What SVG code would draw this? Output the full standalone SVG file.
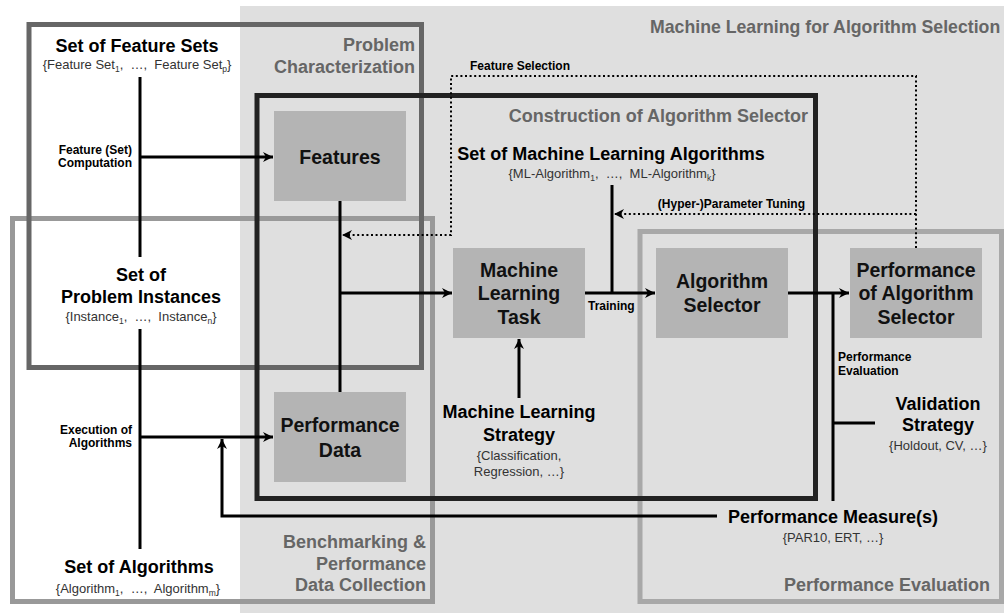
<svg xmlns="http://www.w3.org/2000/svg" width="1004" height="613" viewBox="0 0 1004 613">
<style>
text{font-family:"Liberation Sans",Arial,sans-serif}
.t{font-weight:bold;font-size:18px;fill:#000}
.g{font-weight:bold;font-size:18px;fill:#666}
.n{font-weight:bold;font-size:19.5px;fill:#111;text-anchor:middle}
.s{font-weight:bold;font-size:12px;fill:#000}
.d{font-size:13px;fill:#333}
.sb{font-size:8.5px}
.m{text-anchor:middle}
.e{text-anchor:end}
.node{fill:#b4b4b4}
.box{fill:none;stroke-width:5}
.c{fill:none;stroke:#000;stroke-width:3}
.dot{fill:none;stroke:#000;stroke-width:2;stroke-dasharray:2 2.6}
</style>
<defs>
<marker id="ah" markerUnits="userSpaceOnUse" markerWidth="11" markerHeight="10" refX="10" refY="5" orient="auto">
<path d="M0,0 L10,5 L0,10 L3,5 z" fill="#000"/>
</marker>
</defs>
<rect x="0" y="0" width="1004" height="613" fill="#fff"/>
<rect x="240" y="6" width="764" height="607" fill="#dfdfdf"/>

<g id="benchmarking"><rect class="box" x="12.5" y="218.5" width="420" height="383" stroke="#999"/></g>
<g id="problem-characterization"><rect class="box" x="29" y="24.5" width="392.5" height="343" stroke="#666"/></g>
<g id="performance-evaluation"><rect class="box" x="640" y="231.5" width="361.5" height="370" stroke="#a8a8a8"/></g>
<g id="construction"><rect class="box" x="257" y="95.5" width="558.5" height="403" stroke="#222"/></g>

<g id="titles">
<text class="g e" x="415" y="51">Problem</text>
<text class="g e" x="415" y="73">Characterization</text>
<text class="g" x="650" y="33" style="font-size:17.7px">Machine Learning for Algorithm Selection</text>
<text class="g e" x="808" y="122">Construction of Algorithm Selector</text>
<text class="g e" x="426" y="548">Benchmarking &amp;</text>
<text class="g e" x="426" y="570">Performance</text>
<text class="g e" x="426" y="591">Data Collection</text>
<text class="g e" x="990" y="591">Performance Evaluation</text>
</g>

<g id="features"><rect class="node" x="274" y="111" width="132" height="90"/><text class="n" x="340" y="164">Features</text></g>
<g id="performance-data"><rect class="node" x="274" y="392" width="132" height="90"/><text class="n" x="340" y="432">Performance</text><text class="n" x="340" y="457">Data</text></g>
<g id="ml-task"><rect class="node" x="453" y="248" width="132" height="90"/><text class="n" x="519" y="277">Machine</text><text class="n" x="519" y="300">Learning</text><text class="n" x="519" y="324">Task</text></g>
<g id="algorithm-selector"><rect class="node" x="656" y="248" width="132" height="90"/><text class="n" x="722" y="288">Algorithm</text><text class="n" x="722" y="312">Selector</text></g>
<g id="performance-as"><rect class="node" x="850" y="248" width="132" height="90"/><text class="n" x="916" y="277">Performance</text><text class="n" x="916" y="300">of Algorithm</text><text class="n" x="916" y="324">Selector</text></g>

<g id="feature-sets"><text class="t m" x="137" y="52">Set of Feature Sets</text>
<text class="d m" x="137" y="69">{Feature Set<tspan class="sb" dy="2.5">1</tspan><tspan dy="-2.5">,&#160; …,&#160; Feature Set</tspan><tspan class="sb" dy="2.5">p</tspan><tspan dy="-2.5">}</tspan></text></g>

<g id="problem-instances"><text class="t m" x="141" y="281">Set of</text><text class="t m" x="141" y="303">Problem Instances</text>
<text class="d m" x="141" y="321">{Instance<tspan class="sb" dy="2.5">1</tspan><tspan dy="-2.5">,&#160; …,&#160; Instance</tspan><tspan class="sb" dy="2.5">n</tspan><tspan dy="-2.5">}</tspan></text></g>

<g id="algorithms"><text class="t m" x="139" y="573">Set of Algorithms</text>
<text class="d m" x="138" y="593">{Algorithm<tspan class="sb" dy="2.5">1</tspan><tspan dy="-2.5">,&#160; …,&#160; Algorithm</tspan><tspan class="sb" dy="2.5">m</tspan><tspan dy="-2.5">}</tspan></text></g>

<g id="ml-algorithms"><text class="t m" x="611" y="160">Set of Machine Learning Algorithms</text>
<text class="d m" x="612" y="178">{ML-Algorithm<tspan class="sb" dy="2.5">1</tspan><tspan dy="-2.5">,&#160; …,&#160; ML-Algorithm</tspan><tspan class="sb" dy="2.5">k</tspan><tspan dy="-2.5">}</tspan></text></g>

<g id="ml-strategy"><text class="t m" x="519" y="418">Machine Learning</text><text class="t m" x="519" y="441">Strategy</text>
<text class="d m" x="519" y="460">{Classification,</text><text class="d m" x="519" y="476">Regression, …}</text></g>

<g id="validation-strategy"><text class="t m" x="938" y="410">Validation</text><text class="t m" x="938" y="431">Strategy</text>
<text class="d m" x="938" y="450">{Holdout, CV, …}</text></g>

<g id="performance-measures"><text class="t m" x="833" y="523">Performance Measure(s)</text>
<text class="d m" x="833" y="542">{PAR10, ERT, …}</text></g>

<g id="connectors">
<path class="c" d="M140,77 V257"/>
<path class="c" d="M140,329 V549"/>
<path class="c" d="M140,157 H273" marker-end="url(#ah)"/>
<path class="c" d="M140,437 H273" marker-end="url(#ah)"/>
<path class="c" d="M340,201 V392"/>
<path class="c" d="M340,293 H452" marker-end="url(#ah)"/>
<path class="c" d="M585,293 H655" marker-end="url(#ah)"/>
<path class="c" d="M612,185 V293"/>
<path class="c" d="M788,293 H849" marker-end="url(#ah)"/>
<path class="c" d="M833,293 V501 M833,423 H875"/>
<path class="c" d="M717,516 H222 V439" marker-end="url(#ah)"/>
<path class="c" d="M519,398 V339" marker-end="url(#ah)"/>
<path class="dot" d="M916,248 V76 H451 V235 H342" marker-end="url(#ah)"/>
<path class="dot" d="M916,214 H614" marker-end="url(#ah)"/>
</g>

<g id="labels">
<text class="s e" x="132" y="154">Feature (Set)</text>
<text class="s e" x="132" y="167">Computation</text>
<text class="s e" x="132" y="434">Execution of</text>
<text class="s e" x="132" y="447">Algorithms</text>
<text class="s" x="470" y="70">Feature Selection</text>
<text class="s e" x="805" y="208">(Hyper-)Parameter Tuning</text>
<text class="s" x="588" y="310">Training</text>
<text class="s" x="838" y="361">Performance</text>
<text class="s" x="838" y="375">Evaluation</text>
</g>
</svg>
